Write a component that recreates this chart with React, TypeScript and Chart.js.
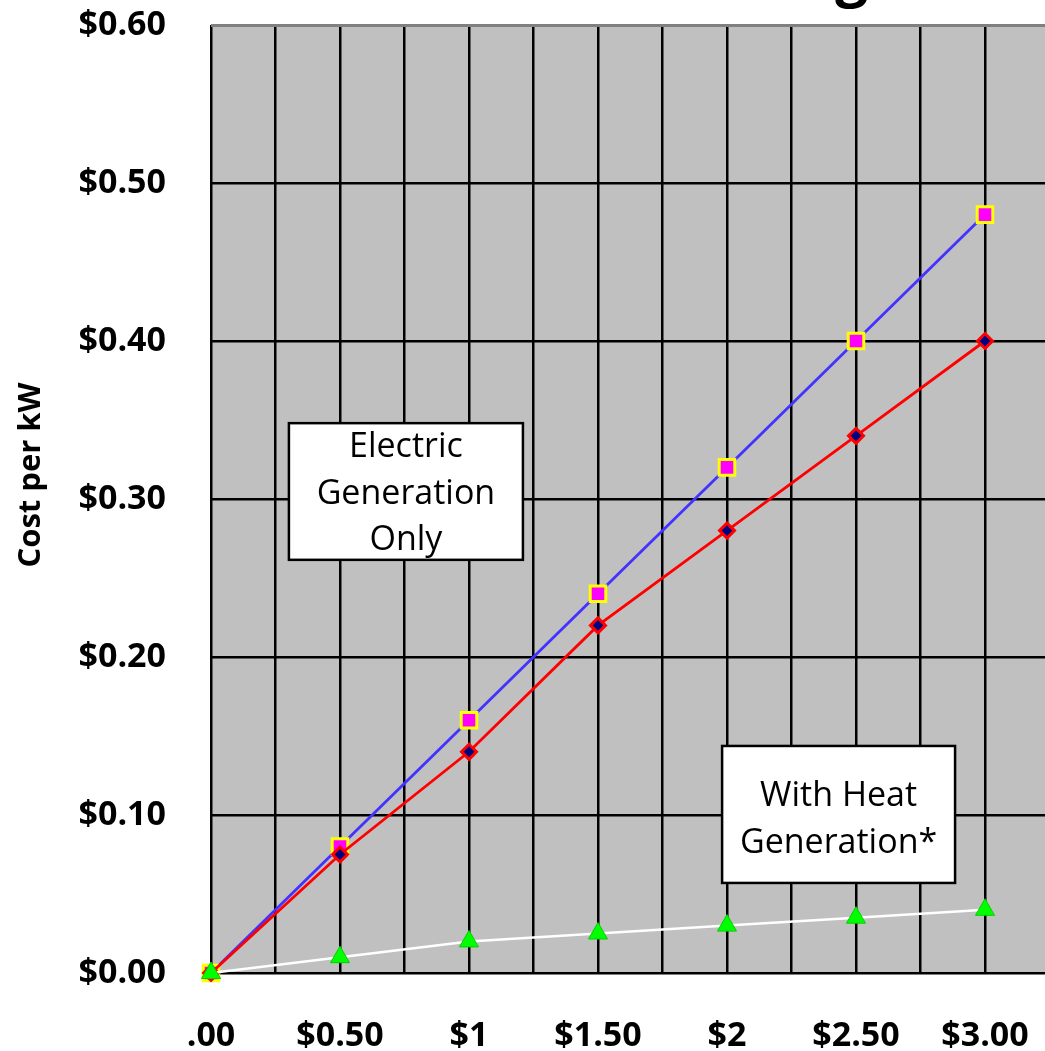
import React, { useEffect, useRef } from 'react';
import { Chart, registerables } from 'chart.js';

Chart.register(...registerables);

// ---- data ----
const xValues = [0, 0.5, 1, 1.5, 2, 2.5, 3];
const xTickLabels = ['.00', '$0.50', '$1', '$1.50', '$2', '$2.50', '$3.00'];
const yTickLabels = ['$0.00', '$0.10', '$0.20', '$0.30', '$0.40', '$0.50', '$0.60'];
const electricSquares = [0, 0.08, 0.16, 0.24, 0.32, 0.4, 0.48];
const electricDiamonds = [0, 0.075, 0.14, 0.22, 0.28, 0.34, 0.4];
const withHeatTriangles = [0, 0.01, 0.02, 0.025, 0.03, 0.035, 0.04];
const yAxisTitle = 'Cost per kW';
const chartTitle = 'Electric Cost Modeling';
const noteElectricLines = ['Electric', 'Generation', 'Only'];
const noteHeatLines = ['With Heat', 'Generation*'];

// annotation boxes in data units
const notes = [
  { lines: noteElectricLines, x0: 0.302, x1: 1.209, y0: 0.348, y1: 0.2615, dy: 0 },
  { lines: noteHeatLines, x0: 1.981, x1: 2.884, y0: 0.1437, y1: 0.057, dy: 3 },
];

const FONT = '"Open Sans", "Noto Sans", sans-serif';

const plotBg = {
  id: 'plotBg',
  beforeDraw(chart: any) {
    const { ctx, chartArea: a } = chart;
    ctx.save();
    ctx.fillStyle = '#C0C0C0';
    ctx.fillRect(a.left, a.top, a.right - a.left, a.bottom - a.top);
    ctx.restore();
  },
};

const notesPlugin = {
  id: 'notes',
  afterDatasetsDraw(chart: any) {
    const { ctx, scales } = chart;
    const xs = scales.x;
    const ys = scales.y;
    ctx.save();
    for (const n of notes) {
      const l = xs.getPixelForValue(n.x0);
      const r = xs.getPixelForValue(n.x1);
      const t = ys.getPixelForValue(n.y0);
      const b = ys.getPixelForValue(n.y1);
      ctx.fillStyle = '#FFFFFF';
      ctx.fillRect(l, t, r - l, b - t);
      ctx.strokeStyle = '#000000';
      ctx.lineWidth = 2.5;
      ctx.strokeRect(l, t, r - l, b - t);
      const size = 34;
      const lh = 46.5;
      ctx.font = `400 ${size}px ${FONT}`;
      ctx.fillStyle = '#000000';
      ctx.textAlign = 'center';
      ctx.textBaseline = 'alphabetic';
      const cx = (l + r) / 2;
      const cy = (t + b) / 2 + n.dy;
      const first = cy - ((n.lines.length - 1) * lh) / 2;
      n.lines.forEach((line, i) => {
        const capCenter = first + i * lh;
        ctx.fillText(line, cx, capCenter + 0.357 * size);
      });
    }
    ctx.restore();
  },
};

const textPlugin = {
  id: 'texts',
  afterDraw(chart: any) {
    const { ctx } = chart;
    ctx.save();
    // cropped chart title (only descender visible)
    ctx.font = `700 58px ${FONT}`;
    ctx.fillStyle = '#000000';
    ctx.textAlign = 'right';
    ctx.textBaseline = 'alphabetic';
    ctx.fillText(chartTitle, 868, -5);
    // y-axis title
    ctx.translate(31, 475);
    ctx.rotate(-Math.PI / 2);
    ctx.font = `700 31px ${FONT}`;
    ctx.textAlign = 'center';
    ctx.textBaseline = 'middle';
    ctx.fillText(yAxisTitle, 0, 0);
    ctx.restore();
  },
};

export default function App() {
  const ref = useRef<HTMLCanvasElement>(null);

  useEffect(() => {
    document.body.style.margin = '0';
    const canvas = ref.current;
    if (!canvas) return;
    const pts = (arr: number[]) => xValues.map((x, i) => ({ x, y: arr[i] }));
    const chart = new Chart(canvas, {
      type: 'line',
      data: {
        datasets: [
          {
            label: 'With Heat Generation',
            data: pts(withHeatTriangles),
            borderColor: '#FFFFFF',
            borderWidth: 2.5,
            pointStyle: 'triangle',
            pointRadius: 11,
            pointBackgroundColor: '#00FF00',
            pointBorderColor: '#00D000',
            pointBorderWidth: 1,
            tension: 0,
            clip: false,
          } as any,
          {
            label: 'Electric Generation B',
            data: pts(electricDiamonds),
            borderColor: '#FF0000',
            borderWidth: 2.8,
            pointStyle: 'rectRot',
            pointRadius: 7.5,
            pointBackgroundColor: '#000080',
            pointBorderColor: '#FF0000',
            pointBorderWidth: 3,
            tension: 0,
            clip: false,
          },
          {
            label: 'Electric Generation A',
            data: pts(electricSquares),
            borderColor: '#4433FF',
            borderWidth: 2.8,
            pointStyle: 'rect',
            pointRadius: 11,
            pointBackgroundColor: '#FF00FF',
            pointBorderColor: '#FFFF00',
            pointBorderWidth: 3,
            tension: 0,
            clip: false,
          },
        ],
      },
      options: {
        animation: false,
        responsive: false,
        events: [],
        layout: { padding: { top: 25, right: 60.5, left: 0, bottom: 0 } },
        plugins: {
          legend: { display: false },
          tooltip: { enabled: false },
          title: { display: false },
        },
        scales: {
          x: {
            type: 'linear',
            min: 0,
            max: 3.25,
            grid: { color: '#000000', lineWidth: 2.5, drawTicks: false },
            border: { display: false },
            ticks: {
              stepSize: 0.25,
              autoSkip: false,
              maxRotation: 0,
              padding: 43,
              color: '#000000',
              font: { family: FONT, size: 34, weight: 'bold' },
              callback: (v: any) => {
                const i = xValues.findIndex((x) => Math.abs(x - Number(v)) < 1e-9);
                return i >= 0 ? xTickLabels[i] : '';
              },
            },
            afterFit: (s: any) => {
              s.height = 78;
              s.paddingLeft = 0;
              s.paddingRight = 0;
            },
          },
          y: {
            type: 'linear',
            min: 0,
            max: 0.6,
            grid: {
              color: (c: any) => (c.tick && c.tick.value > 0.59 ? '#808080' : '#000000'),
              lineWidth: (c: any) => (c.tick && c.tick.value > 0.59 ? 3 : 2.5),
              drawTicks: false,
            },
            border: { display: false },
            ticks: {
              stepSize: 0.1,
              padding: 45,
              color: '#000000',
              font: { family: FONT, size: 34, weight: 'bold' },
              callback: (_v: any, i: number) => yTickLabels[i],
            },
            afterFit: (s: any) => {
              s.width = 211;
              s.paddingTop = 0;
              s.paddingBottom = 0;
            },
          },
        },
      },
      plugins: [plotBg, notesPlugin, textPlugin],
    } as any);
    return () => chart.destroy();
  }, []);

  return (
    <div style={{ width: 1045, height: 1051, overflow: 'hidden', position: 'relative', background: '#FFFFFF' }}>
      <canvas ref={ref} width={1110} height={1051} style={{ display: 'block' }} />
    </div>
  );
}
